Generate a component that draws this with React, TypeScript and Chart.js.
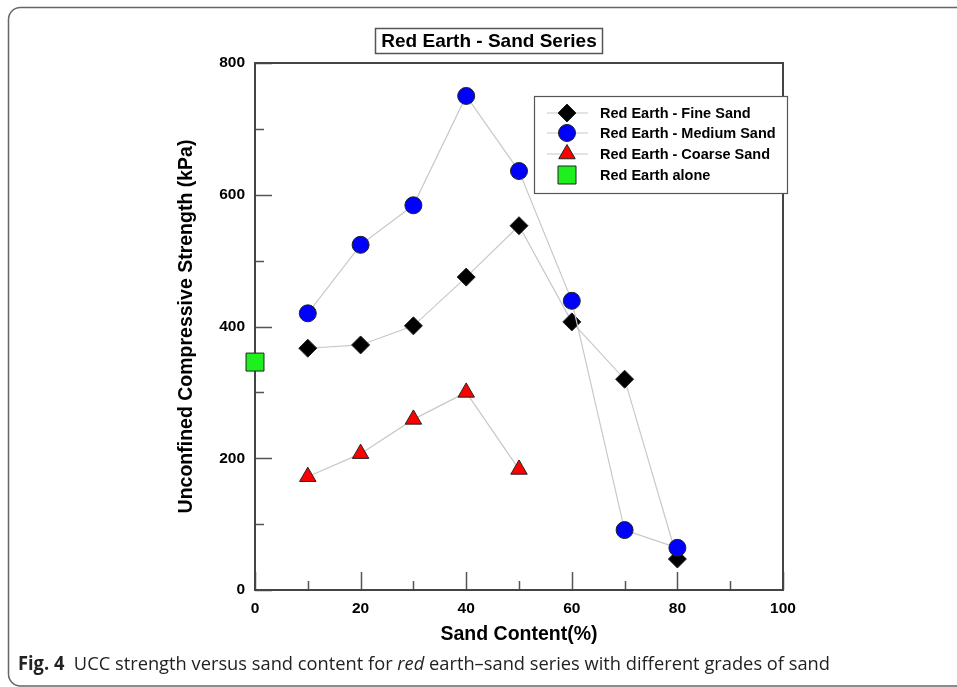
import React, { useEffect, useRef } from "react";
import { Chart, registerables } from "chart.js";

Chart.register(...registerables);

const sandContent = [10, 20, 30, 40, 50, 60, 70, 80];
const fineSand = [367, 372, 401, 475, 553, 407, 320, 47];
const mediumSand = [420, 524, 584, 750, 636, 439, 91, 64];
const coarseX = [10, 20, 30, 40, 50];
const coarseSand = [172, 207, 259, 300, 183];
const aloneX = [0];
const aloneValue = [346];

const xTicks = [0, 20, 40, 60, 80, 100];
const yTicks = [0, 200, 400, 600, 800];

const seriesNames = [
  "Red Earth - Fine Sand",
  "Red Earth - Medium Sand",
  "Red Earth - Coarse Sand",
  "Red Earth alone",
];
const chartTitle = "Red Earth - Sand Series";
const xTitle = "Sand Content(%)";
const yTitle = "Unconfined Compressive Strength (kPa)";

const FONT = "'Liberation Sans', Arial, sans-serif";

function drawMarker(ctx: CanvasRenderingContext2D, kind: string, x: number, y: number) {
  ctx.save();
  ctx.lineWidth = 1;
  ctx.strokeStyle = "#222";
  ctx.beginPath();
  if (kind === "diamond") {
    const r = 9;
    ctx.moveTo(x, y - r);
    ctx.lineTo(x + r, y);
    ctx.lineTo(x, y + r);
    ctx.lineTo(x - r, y);
    ctx.closePath();
    ctx.fillStyle = "#000";
  } else if (kind === "circle") {
    ctx.arc(x, y, 8.5, 0, Math.PI * 2);
    ctx.fillStyle = "#0000ff";
  } else if (kind === "triangle") {
    const r = 9.5;
    ctx.moveTo(x, y - r);
    ctx.lineTo(x + r * 0.866, y + r * 0.5);
    ctx.lineTo(x - r * 0.866, y + r * 0.5);
    ctx.closePath();
    ctx.fillStyle = "#ff0000";
  } else {
    ctx.rect(x - 9, y - 9, 18, 18);
    ctx.fillStyle = "#1ef01e";
  }
  ctx.fill();
  ctx.stroke();
  ctx.restore();
}

const decorPlugin = {
  id: "decor",
  beforeDraw(chart: any) {
    const ctx: CanvasRenderingContext2D = chart.ctx;
    ctx.save();
    // figure frame
    ctx.strokeStyle = "#666";
    ctx.lineWidth = 1.5;
    const x0 = 8.5, y0 = 7.5, x1 = 975, y1 = 686, r = 12;
    ctx.beginPath();
    ctx.moveTo(x1, y0);
    ctx.lineTo(x0 + r, y0);
    ctx.arcTo(x0, y0, x0, y0 + r, r);
    ctx.lineTo(x0, y1 - r);
    ctx.arcTo(x0, y1, x0 + r, y1, r);
    ctx.lineTo(x1, y1);
    ctx.stroke();

    // title box
    ctx.strokeStyle = "#555";
    ctx.lineWidth = 1.5;
    ctx.strokeRect(375.5, 28.5, 227, 25);
    ctx.fillStyle = "#000";
    ctx.font = `bold 19px ${FONT}`;
    ctx.textAlign = "center";
    ctx.textBaseline = "middle";
    ctx.fillText(chartTitle, 489, 41.5, 218);

    // caption
    const segs = [
      { t: "Fig. 4", f: "bold 19px 'Open Sans', sans-serif" },
      { t: "  UCC strength versus sand content for ", f: "19px 'Open Sans', sans-serif" },
      { t: "red", f: "italic 19px 'Open Sans', sans-serif" },
      { t: " earth\u2013sand series with different grades of sand", f: "19px 'Open Sans', sans-serif" },
    ];
    let total = 0;
    for (const s of segs) {
      ctx.font = s.f;
      total += ctx.measureText(s.t).width;
    }
    const sx = 812 / total;
    ctx.save();
    ctx.translate(18, 665);
    ctx.scale(sx, 1);
    ctx.textAlign = "left";
    ctx.textBaseline = "middle";
    ctx.fillStyle = "#222";
    let cx = 0;
    for (const s of segs) {
      ctx.font = s.f;
      ctx.fillText(s.t, cx, 0);
      cx += ctx.measureText(s.t).width;
    }
    ctx.restore();
    ctx.restore();
  },
  beforeDatasetsDraw(chart: any) {
    const ctx: CanvasRenderingContext2D = chart.ctx;
    const { left, right, top, bottom } = chart.chartArea;
    const xs = chart.scales.x;
    const ys = chart.scales.y;
    ctx.save();
    ctx.strokeStyle = "#555";
    ctx.lineWidth = 1.5;
    ctx.beginPath();
    for (let v = 0; v <= 800; v += 100) {
      const py = Math.round(ys.getPixelForValue(v)) + 0.5;
      const len = v % 200 === 0 ? 17 : 9;
      ctx.moveTo(left, py);
      ctx.lineTo(left + len, py);
    }
    for (let v = 0; v <= 100; v += 10) {
      const px = Math.round(xs.getPixelForValue(v)) + 0.5;
      const len = v % 20 === 0 ? 18 : 9;
      ctx.moveTo(px, bottom);
      ctx.lineTo(px, bottom - len);
    }
    ctx.stroke();
    ctx.lineWidth = 2;
    ctx.strokeStyle = "#444";
    ctx.strokeRect(left, top, right - left, bottom - top);
    ctx.restore();
  },
  afterDraw(chart: any) {
    const ctx: CanvasRenderingContext2D = chart.ctx;
    ctx.save();
    ctx.fillStyle = "#fff";
    ctx.fillRect(534.5, 96.5, 253, 97);
    ctx.strokeStyle = "#555";
    ctx.lineWidth = 1.2;
    ctx.strokeRect(534.5, 96.5, 253, 97);
    const rows = [113, 133, 154, 175];
    const kinds = ["diamond", "circle", "triangle", "square"];
    ctx.font = `bold 14.5px ${FONT}`;
    ctx.textAlign = "left";
    ctx.textBaseline = "middle";
    rows.forEach((ry, i) => {
      if (i < 3) {
        ctx.strokeStyle = "#c8c8c8";
        ctx.lineWidth = 1.2;
        ctx.beginPath();
        ctx.moveTo(547, ry);
        ctx.lineTo(588, ry);
        ctx.stroke();
      }
      drawMarker(ctx, kinds[i], 567, ry);
      ctx.fillStyle = "#000";
      ctx.fillText(seriesNames[i], 600, ry + 1, 180);
    });
    ctx.restore();
  },
};

export default function App() {
  const ref = useRef<HTMLCanvasElement>(null);
  useEffect(() => {
    if (!ref.current) return;
    const lineColor = "#c8c8c8";
    const chart = new Chart(ref.current, {
      type: "line",
      data: {
        datasets: [
          {
            label: seriesNames[0],
            data: sandContent.map((x, i) => ({ x, y: fineSand[i] })),
            borderColor: lineColor,
            borderWidth: 1.2,
            pointStyle: "rectRot",
            pointRadius: 9,
            pointBackgroundColor: "#000",
            pointBorderColor: "#222",
            pointBorderWidth: 1,
            order: 1,
          },
          {
            label: seriesNames[1],
            data: sandContent.map((x, i) => ({ x, y: mediumSand[i] })),
            borderColor: lineColor,
            borderWidth: 1.2,
            pointStyle: "circle",
            pointRadius: 8.5,
            pointBackgroundColor: "#0000ff",
            pointBorderColor: "#222",
            pointBorderWidth: 1,
            order: 0,
          },
          {
            label: seriesNames[2],
            data: coarseX.map((x, i) => ({ x, y: coarseSand[i] })),
            borderColor: lineColor,
            borderWidth: 1.2,
            pointStyle: "triangle",
            pointRadius: 9.5,
            pointBackgroundColor: "#ff0000",
            pointBorderColor: "#222",
            pointBorderWidth: 1,
            order: 2,
          },
          {
            label: seriesNames[3],
            data: aloneX.map((x, i) => ({ x, y: aloneValue[i] })),
            showLine: false,
            clip: false,
            pointStyle: "rect",
            pointRadius: 12.7,
            pointBackgroundColor: "#1ef01e",
            pointBorderColor: "#222",
            pointBorderWidth: 1,
            order: 3,
          },
        ],
      },
      options: {
        responsive: false,
        animation: false,
        devicePixelRatio: 1,
        layout: { padding: { left: 175, right: 174, top: 63, bottom: 37 } },
        plugins: {
          legend: { display: false },
          title: { display: false },
          tooltip: { enabled: false },
        },
        elements: { line: { tension: 0 } },
        scales: {
          x: {
            type: "linear",
            min: 0,
            max: 100,
            afterFit: (s: any) => {
              s.height = 60;
            },
            afterBuildTicks: (s: any) => {
              s.ticks = xTicks.map((v) => ({ value: v }));
            },
            grid: { display: false, drawTicks: false },
            border: { display: false },
            ticks: {
              padding: 9,
              color: "#000",
              font: { family: FONT, size: 15.5, weight: "bold" },
            },
            title: {
              display: true,
              text: xTitle,
              color: "#000",
              font: { family: FONT, size: 19.5, weight: "bold" },
              padding: { top: 0, bottom: 3.3 },
            },
          },
          y: {
            type: "linear",
            min: 0,
            max: 800,
            afterFit: (s: any) => {
              s.width = 80;
            },
            afterBuildTicks: (s: any) => {
              s.ticks = yTicks.map((v) => ({ value: v }));
            },
            grid: { display: false, drawTicks: false },
            border: { display: false },
            ticks: {
              padding: 10,
              color: "#000",
              font: { family: FONT, size: 15.5, weight: "bold" },
            },
            title: {
              display: true,
              text: yTitle,
              color: "#000",
              font: { family: FONT, size: 19.5, weight: "bold" },
              padding: { top: 0, bottom: 0 },
            },
          },
        },
      },
      plugins: [decorPlugin],
    } as any);
    return () => chart.destroy();
  }, []);
  return (
    <div style={{ position: "absolute", left: 0, top: 0, width: 957, height: 687, background: "#fff" }}>
      <canvas ref={ref} width={957} height={687} style={{ display: "block", width: 957, height: 687 }} />
    </div>
  );
}
